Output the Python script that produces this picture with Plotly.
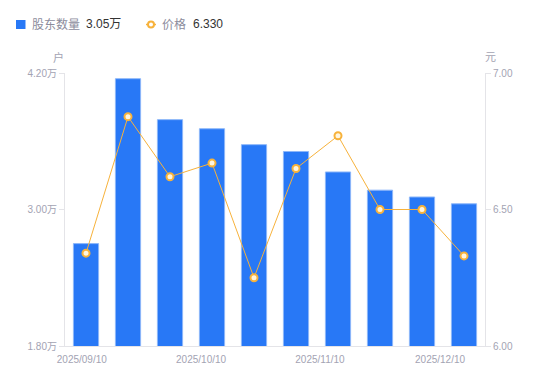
import plotly.graph_objects as go

# ---- data ----
holders_wan = [2.70, 4.15, 3.79, 3.71, 3.57, 3.51, 3.33, 3.17, 3.11, 3.05]  # 股东数量 (万户)
price = [6.34, 6.84, 6.62, 6.67, 6.25, 6.65, 6.77, 6.50, 6.50, 6.33]       # 价格 (元)
bar_idx = list(range(len(holders_wan)))
x_tick_pos = [-0.1, 2.74, 5.57, 8.43]
x_tick_text = ["2025/09/10", "2025/10/10", "2025/11/10", "2025/12/10"]
y1_ticks = [1.80, 3.00, 4.20]
y1_tick_text = ["1.80万", "3.00万", "4.20万"]
y2_ticks = [6.00, 6.50, 7.00]
y2_tick_text = ["6.00", "6.50", "7.00"]
legend_holders = "3.05万"
legend_price = "6.330"

# page body has an 8px default margin; compensate so the chart lands where intended
OFF = 8
W, H = 550, 381
PL, PR, PT, PB = 65, 485, 73, 346          # target plot-area box in window pixels
L, T = PL - OFF, PT - OFF
R = W - (PR - OFF)
B = H - (PB - OFF)
PW, PH = PR - PL, PB - PT

def px(x):
    return (x - PL) / PW

def py(y):
    return 1 - (y - PT) / PH

FONT = "Liberation Sans, Arial, Noto Sans CJK SC, sans-serif"
BLUE = "#2878f6"
ORANGE = "#f7b23b"
AXIS_TXT = "#a3a3b3"
LEG_TXT = "#8c8c9c"
AXIS_LINE = "#e4e4e8"

fig = go.Figure()
fig.add_trace(go.Bar(
    x=bar_idx, y=holders_wan, name="股东数量",
    marker=dict(color=BLUE, line=dict(color="#8db7f9", width=1)),
    width=0.6, yaxis="y", showlegend=False,
))
fig.add_trace(go.Scatter(
    x=bar_idx, y=price, name="价格", mode="lines+markers",
    line=dict(color=ORANGE, width=1),
    marker=dict(symbol="circle", size=7, color="#fff6e0",
                line=dict(color=ORANGE, width=2)),
    yaxis="y2", showlegend=False,
))

fig.update_layout(
    width=W, height=H,
    margin=dict(l=L, r=R, t=T, b=B, pad=0),
    paper_bgcolor="white", plot_bgcolor="white",
    font=dict(family=FONT, size=10, color=AXIS_TXT),
    xaxis=dict(
        range=[-0.5, len(bar_idx) - 0.5],
        tickmode="array", tickvals=x_tick_pos, ticktext=x_tick_text,
        showgrid=False, zeroline=False, showline=True, linecolor=AXIS_LINE,
        linewidth=1, ticks="", ticklabelstandoff=4,
        tickfont=dict(size=10, color=AXIS_TXT),
    ),
    yaxis=dict(
        range=[1.8, 4.2], tickmode="array", tickvals=y1_ticks, ticktext=y1_tick_text,
        showgrid=False, zeroline=False, showline=True, linecolor=AXIS_LINE,
        ticks="outside", ticklen=5, tickcolor=AXIS_LINE,
        tickfont=dict(size=10, color=AXIS_TXT),
    ),
    yaxis2=dict(
        range=[6.0, 7.0], overlaying="y", side="right",
        tickmode="array", tickvals=y2_ticks, ticktext=y2_tick_text,
        showgrid=False, zeroline=False, showline=True, linecolor=AXIS_LINE,
        ticks="outside", ticklen=5, tickcolor=AXIS_LINE,
        tickfont=dict(size=10, color=AXIS_TXT),
    ),
    showlegend=False,
)

def label(text, x, y, color, size, xanchor="left"):
    fig.add_annotation(text=text, x=px(x), y=py(y), xref="paper", yref="paper",
                       xanchor=xanchor, yanchor="middle", showarrow=False,
                       font=dict(size=size, color=color))

# axis unit titles
label("户", 58, 57, AXIS_TXT, 11, "center")
label("元", 490, 57, AXIS_TXT, 11, "center")

# custom legend
ly = 24.5
fig.add_shape(type="rect", xref="paper", yref="paper",
              x0=px(16), x1=px(25.5), y0=py(ly - 4.5), y1=py(ly + 4.5),
              fillcolor=BLUE, line=dict(width=0), layer="above")
label("股东数量", 30, ly, LEG_TXT, 12)
label(legend_holders, 84, ly, "#333333", 12)
fig.add_shape(type="line", xref="paper", yref="paper",
              x0=px(146), x1=px(156), y0=py(ly), y1=py(ly),
              line=dict(color=ORANGE, width=1.5), layer="above")
fig.add_shape(type="circle", xref="paper", yref="paper",
              x0=px(148), x1=px(154), y0=py(ly - 3), y1=py(ly + 3),
              fillcolor="#ffffff", line=dict(color=ORANGE, width=2), layer="above")
label("价格", 160, ly, LEG_TXT, 12)
label(legend_price, 191, ly, "#333333", 12)

fig.write_html("out.html")
